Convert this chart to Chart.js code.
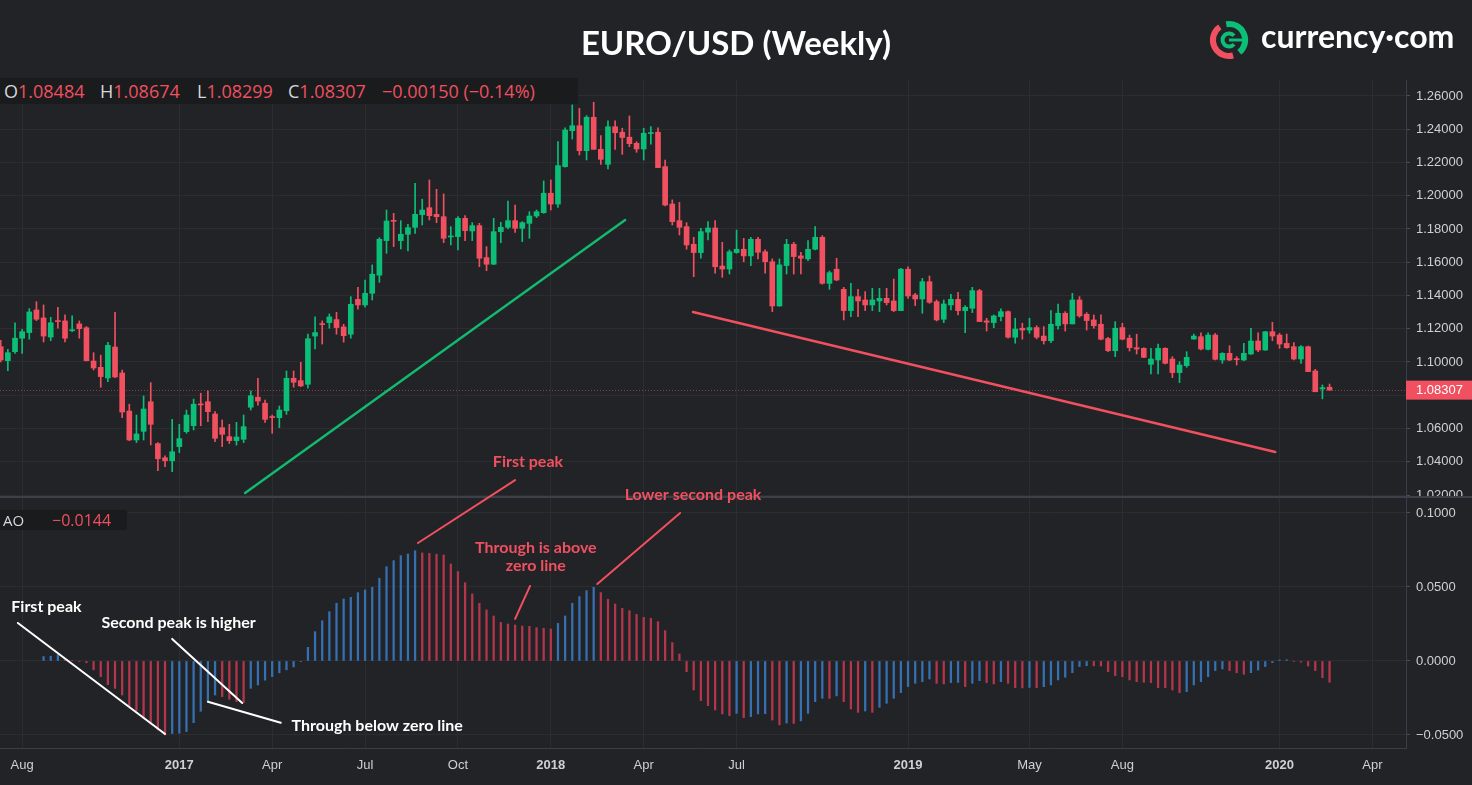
<!DOCTYPE html>
<html>
<head>
<meta charset="utf-8">
<title>EURO/USD (Weekly)</title>
<script src="https://cdn.jsdelivr.net/npm/chart.js@4.4.1/dist/chart.umd.min.js"></script>
<style>
  html, body { margin: 0; padding: 0; background: #222326; }
  #wrap { position: relative; width: 1472px; height: 785px; overflow: hidden; }
  #chart { position: absolute; left: 0; top: 0; }
  #title { position: absolute; left: 0; top: 23px; width: 1472px; text-align: center; color: #fff;
           font: 700 33px Lato, sans-serif; line-height: 38px; }
  #logoIcon { position: absolute; left: 1207px; top: 18px; }
  #logoText { position: absolute; left: 1261px; top: 20px; color: #fff; font: 700 32px Lato, sans-serif; line-height: 32px; }
  .hdr { position: absolute; left: 0; background: #1a1b1d; }
  #ohlc { top: 78px; width: 578px; height: 26px; font: 18px 'Open Sans', sans-serif; line-height: 26px; }
  #aoHead { top: 510px; width: 127px; height: 20px; font: 15px 'Open Sans', sans-serif; line-height: 20px; }
  .hdr span { position: absolute; top: 0; white-space: nowrap; }
  .k { color: #d6d7db; }
  .v { color: #f05060; }
</style>
</head>
<body>
<div id="wrap">
  <canvas id="chart" width="1472" height="785"></canvas>
  <div id="title">EURO/USD (Weekly)</div>
  <svg id="logoIcon" width="44" height="44" viewBox="0 0 44 44">
    <path d="M26.1 37.5 A16 16 0 0 1 12.8 8.9" stroke="#f05060" stroke-width="6" fill="none"/>
    <path d="M19.2 6.2 A16 16 0 0 1 32.3 34.3" stroke="#0bbf78" stroke-width="6" fill="none"/>
    <path d="M27 17.8 A6.5 6.5 0 1 0 27 26.2" stroke="#0bbf78" stroke-width="4" fill="none"/>
    <path d="M22 22 L37 22" stroke="#0bbf78" stroke-width="3"/>
  </svg>
  <div id="logoText">currency·com</div>
  <div id="ohlc" class="hdr"></div>
  <div id="aoHead" class="hdr"></div>
</div>
<script>
// Weekly EUR/USD candles, Aug 2016 - Feb 2020 (one entry per week)
const opens = [
  1.1092, 1.1008, 1.1062, 1.1143, 1.1177, 1.1313, 1.1265, 1.1150, 1.1247, 1.1247,
  1.1188, 1.1229, 1.1206, 1.1006, 1.0968, 1.0904, 1.1090, 1.0934, 1.0705, 1.0531,
  1.0583, 1.0761, 1.0509, 1.0424, 1.0406, 1.0491, 1.0581, 1.0617, 1.0746, 1.0761,
  1.0687, 1.0605, 1.0551, 1.0527, 1.0535, 1.0728, 1.0788, 1.0752, 1.0670, 1.0665,
  1.0707, 1.0902, 1.0888, 1.0866, 1.1156, 1.1229, 1.1237, 1.1255, 1.1211, 1.1167,
  1.1377, 1.1343, 1.1413, 1.1522, 1.1730, 1.1850, 1.1730, 1.1768, 1.1810, 1.1886,
  1.1928, 1.1888, 1.1874, 1.1752, 1.1754, 1.1864, 1.1788, 1.1820, 1.1628, 1.1588,
  1.1784, 1.1810, 1.1850, 1.1804, 1.1834, 1.1878, 1.1898, 1.2015, 1.1950, 1.2175,
  1.2391, 1.2421, 1.2271, 1.2472, 1.2279, 1.2189, 1.2415, 1.2382, 1.2352, 1.2315,
  1.2281, 1.2374, 1.2382, 1.2175, 1.1950, 1.1850, 1.1814, 1.1708, 1.1658, 1.1781,
  1.1806, 1.1577, 1.1559, 1.1658, 1.1678, 1.1638, 1.1738, 1.1663, 1.1603, 1.1337,
  1.1580, 1.1708, 1.1638, 1.1620, 1.1678, 1.1750, 1.1473, 1.1558, 1.1437, 1.1309,
  1.1393, 1.1373, 1.1343, 1.1367, 1.1383, 1.1367, 1.1309, 1.1558, 1.1403, 1.1379,
  1.1483, 1.1363, 1.1257, 1.1343, 1.1377, 1.1309, 1.1323, 1.1429, 1.1247, 1.1237,
  1.1273, 1.1303, 1.1149, 1.1203, 1.1192, 1.1207, 1.1156, 1.1128, 1.1219, 1.1293,
  1.1229, 1.1373, 1.1287, 1.1253, 1.1227, 1.1141, 1.1068, 1.1207, 1.1143, 1.1086,
  1.1082, 1.0986, 1.1012, 1.1082, 1.1018, 1.0936, 1.0978, 1.1138, 1.1152, 1.1076,
  1.1162, 1.1012, 1.1052, 1.1018, 1.1012, 1.1048, 1.1126, 1.1072, 1.1182, 1.1162,
  1.1112, 1.1092, 1.1018, 1.1092, 1.0946, 1.0838, 1.08484
];
const highs = [
  1.1130, 1.1076, 1.1236, 1.1197, 1.1321, 1.1363, 1.1343, 1.1269, 1.1329, 1.1283,
  1.1277, 1.1247, 1.1213, 1.1056, 1.1041, 1.1118, 1.1299, 1.0952, 1.0746, 1.0681,
  1.0796, 1.0876, 1.0515, 1.0435, 1.0655, 1.0625, 1.0711, 1.0777, 1.0812, 1.0826,
  1.0701, 1.0651, 1.0625, 1.0637, 1.0681, 1.0826, 1.0902, 1.0771, 1.0681, 1.0735,
  1.0946, 1.0946, 1.0998, 1.1168, 1.1272, 1.1247, 1.1289, 1.1299, 1.1227, 1.1393,
  1.1449, 1.1493, 1.1584, 1.1748, 1.1914, 1.1894, 1.1850, 1.1828, 1.2075, 1.1979,
  1.2095, 1.2039, 1.2011, 1.1814, 1.1874, 1.1880, 1.1838, 1.1834, 1.1694, 1.1864,
  1.1840, 1.1968, 1.1944, 1.1844, 1.1904, 1.1914, 1.2089, 1.2095, 1.2325, 1.2409,
  1.2546, 1.2526, 1.2482, 1.2562, 1.2361, 1.2451, 1.2451, 1.2406, 1.2480, 1.2325,
  1.2406, 1.2416, 1.2409, 1.2215, 1.1975, 1.1960, 1.1838, 1.1750, 1.1804, 1.1844,
  1.1850, 1.1720, 1.1674, 1.1794, 1.1744, 1.1750, 1.1750, 1.1674, 1.1620, 1.1620,
  1.1738, 1.1720, 1.1660, 1.1730, 1.1814, 1.1760, 1.1547, 1.1624, 1.1449, 1.1473,
  1.1437, 1.1423, 1.1443, 1.1443, 1.1443, 1.1499, 1.1564, 1.1573, 1.1413, 1.1503,
  1.1517, 1.1373, 1.1373, 1.1407, 1.1419, 1.1339, 1.1449, 1.1437, 1.1263, 1.1283,
  1.1319, 1.1307, 1.1263, 1.1233, 1.1263, 1.1218, 1.1213, 1.1309, 1.1349, 1.1303,
  1.1413, 1.1393, 1.1297, 1.1283, 1.1283, 1.1149, 1.1243, 1.1233, 1.1162, 1.1167,
  1.1086, 1.1082, 1.1108, 1.1086, 1.1032, 1.1002, 1.1062, 1.1168, 1.1176, 1.1176,
  1.1172, 1.1056, 1.1098, 1.1032, 1.1112, 1.1203, 1.1176, 1.1184, 1.1239, 1.1172,
  1.1168, 1.1116, 1.1098, 1.1096, 1.0956, 1.0862, 1.08674
];
const lows = [
  1.1000, 1.0948, 1.1052, 1.1052, 1.1137, 1.1249, 1.1120, 1.1128, 1.1203, 1.1120,
  1.1182, 1.1143, 1.1006, 1.0952, 1.0848, 1.0881, 1.0906, 1.0665, 1.0527, 1.0515,
  1.0531, 1.0501, 1.0346, 1.0370, 1.0340, 1.0455, 1.0571, 1.0591, 1.0617, 1.0641,
  1.0521, 1.0491, 1.0510, 1.0500, 1.0515, 1.0711, 1.0741, 1.0637, 1.0571, 1.0605,
  1.0685, 1.0848, 1.0852, 1.0842, 1.1078, 1.1108, 1.1203, 1.1167, 1.1119, 1.1143,
  1.1317, 1.1329, 1.1373, 1.1479, 1.1654, 1.1694, 1.1680, 1.1668, 1.1774, 1.1824,
  1.1854, 1.1838, 1.1718, 1.1704, 1.1674, 1.1730, 1.1730, 1.1573, 1.1549, 1.1586,
  1.1718, 1.1800, 1.1780, 1.1724, 1.1744, 1.1868, 1.1894, 1.1914, 1.1930, 1.2171,
  1.2341, 1.2245, 1.2215, 1.2279, 1.2189, 1.2161, 1.2279, 1.2249, 1.2295, 1.2261,
  1.2215, 1.2310, 1.2169, 1.1938, 1.1824, 1.1764, 1.1678, 1.1513, 1.1624, 1.1734,
  1.1534, 1.1509, 1.1529, 1.1654, 1.1603, 1.1579, 1.1620, 1.1534, 1.1303, 1.1335,
  1.1529, 1.1529, 1.1529, 1.1609, 1.1674, 1.1468, 1.1437, 1.1489, 1.1253, 1.1273,
  1.1273, 1.1309, 1.1309, 1.1303, 1.1343, 1.1303, 1.1309, 1.1383, 1.1339, 1.1293,
  1.1353, 1.1247, 1.1237, 1.1313, 1.1283, 1.1176, 1.1297, 1.1243, 1.1186, 1.1206,
  1.1247, 1.1143, 1.1113, 1.1137, 1.1173, 1.1139, 1.1108, 1.1116, 1.1198, 1.1186,
  1.1229, 1.1269, 1.1192, 1.1203, 1.1133, 1.1062, 1.1032, 1.1133, 1.1066, 1.1048,
  1.1026, 1.0928, 1.0928, 1.0988, 1.0906, 1.0876, 1.0968, 1.1137, 1.1072, 1.1072,
  1.1012, 1.0992, 1.1008, 1.0982, 1.1008, 1.1046, 1.1062, 1.1070, 1.1128, 1.1082,
  1.1082, 1.1012, 1.0992, 1.0942, 1.0821, 1.0778, 1.08299
];
const closes = [
  1.1012, 1.1056, 1.1143, 1.1182, 1.1301, 1.1257, 1.1156, 1.1236, 1.1243, 1.1143,
  1.1192, 1.1200, 1.1008, 1.0964, 1.0912, 1.1100, 1.0910, 1.0699, 1.0531, 1.0567,
  1.0717, 1.0625, 1.0418, 1.0406, 1.0460, 1.0539, 1.0681, 1.0746, 1.0742, 1.0701,
  1.0541, 1.0565, 1.0527, 1.0549, 1.0611, 1.0797, 1.0765, 1.0655, 1.0666, 1.0711,
  1.0902, 1.0878, 1.0856, 1.1140, 1.1177, 1.1225, 1.1271, 1.1207, 1.1158, 1.1347,
  1.1343, 1.1413, 1.1528, 1.1738, 1.1848, 1.1846, 1.1768, 1.1808, 1.1888, 1.1914,
  1.1880, 1.1874, 1.1744, 1.1756, 1.1864, 1.1790, 1.1820, 1.1624, 1.1588, 1.1784,
  1.1810, 1.1850, 1.1804, 1.1838, 1.1878, 1.1904, 1.2015, 1.1950, 1.2181, 1.2395,
  1.2421, 1.2271, 1.2472, 1.2279, 1.2219, 1.2415, 1.2379, 1.2350, 1.2313, 1.2281,
  1.2376, 1.2378, 1.2169, 1.1944, 1.1844, 1.1810, 1.1704, 1.1658, 1.1784, 1.1806,
  1.1573, 1.1559, 1.1663, 1.1678, 1.1638, 1.1738, 1.1660, 1.1603, 1.1337, 1.1584,
  1.1708, 1.1634, 1.1624, 1.1678, 1.1750, 1.1473, 1.1537, 1.1493, 1.1309, 1.1393,
  1.1367, 1.1343, 1.1373, 1.1383, 1.1357, 1.1309, 1.1558, 1.1397, 1.1379, 1.1483,
  1.1359, 1.1253, 1.1349, 1.1377, 1.1309, 1.1329, 1.1429, 1.1243, 1.1239, 1.1277,
  1.1303, 1.1149, 1.1198, 1.1192, 1.1207, 1.1149, 1.1128, 1.1227, 1.1293, 1.1229,
  1.1373, 1.1277, 1.1249, 1.1218, 1.1137, 1.1068, 1.1203, 1.1137, 1.1086, 1.1078,
  1.1028, 1.1018, 1.1082, 1.0992, 1.0936, 1.0982, 1.1028, 1.1156, 1.1078, 1.1162,
  1.1016, 1.1052, 1.1012, 1.1014, 1.1052, 1.1126, 1.1072, 1.1182, 1.1156, 1.1108,
  1.1086, 1.1018, 1.1092, 1.0942, 1.0821, 1.08457, 1.08307
];

// Awesome Oscillator, same weeks (first six weeks have no value on the chart)
const ao = [
  null, null, null, null, null, null,
  0.0030, 0.0032, 0.0042, 0.0008, 0.0003, -0.0004, -0.0012, -0.0060, -0.0106, -0.0160,
  -0.0185, -0.0230, -0.0300, -0.0335, -0.0390, -0.0426, -0.0466, -0.0500, -0.0490, -0.0488,
  -0.0477, -0.0417, -0.0340, -0.0275, -0.0230, -0.0241, -0.0259, -0.0275, -0.0281, -0.0185,
  -0.0162, -0.0130, -0.0106, -0.0080, -0.0060, -0.0040, -0.0005, 0.0092, 0.0198, 0.0272,
  0.0333, 0.0390, 0.0419, 0.0430, 0.0462, 0.0480, 0.0498, 0.0559, 0.0637, 0.0678,
  0.0712, 0.0723, 0.0745, 0.0730, 0.0727, 0.0722, 0.0716, 0.0655, 0.0604, 0.0529,
  0.0453, 0.0390, 0.0345, 0.0304, 0.0261, 0.0250, 0.0243, 0.0236, 0.0234, 0.0225,
  0.0221, 0.0216, 0.0254, 0.0304, 0.0390, 0.0435, 0.0475, 0.0498, 0.0462, 0.0417,
  0.0385, 0.0356, 0.0340, 0.0315, 0.0295, 0.0288, 0.0266, 0.0205, 0.0124, 0.0047,
  -0.0072, -0.0196, -0.0268, -0.0302, -0.0331, -0.0358, -0.0370, -0.0354, -0.0383, -0.0376,
  -0.0358, -0.0356, -0.0399, -0.0432, -0.0419, -0.0422, -0.0405, -0.0354, -0.0275, -0.0252,
  -0.0253, -0.0236, -0.0275, -0.0324, -0.0347, -0.0338, -0.0347, -0.0313, -0.0286, -0.0252,
  -0.0214, -0.0173, -0.0151, -0.0140, -0.0122, -0.0151, -0.0155, -0.0146, -0.0145, -0.0173,
  -0.0151, -0.0133, -0.0146, -0.0155, -0.0140, -0.0151, -0.0180, -0.0182, -0.0179, -0.0181,
  -0.0174, -0.0162, -0.0128, -0.0110, -0.0079, -0.0038, -0.0032, -0.0033, -0.0034, -0.0072,
  -0.0099, -0.0106, -0.0128, -0.0140, -0.0144, -0.0146, -0.0180, -0.0181, -0.0196, -0.0214,
  -0.0207, -0.0162, -0.0140, -0.0106, -0.0065, -0.0054, -0.0065, -0.0079, -0.0090, -0.0079,
  -0.0061, -0.0038, -0.0011, 0.0007, 0.0008, -0.0004, -0.0008, -0.0034, -0.0065, -0.0113, -0.0144
];

// x axis labels (week index they sit on)
const tickWeeks = [3, 25, 38, 51, 64, 77, 90, 103, 127, 144, 157, 179, 192];
const tickText = ['Aug', '2017', 'Apr', 'Jul', 'Oct', '2018', 'Apr', 'Jul', '2019', 'May', 'Aug', '2020', 'Apr'];

const RED = '#f05060', GREEN = '#0bbf78', AO_UP = '#3570b2', AO_DN = '#b5364c';
const BG = '#222326', GRID = '#2b2d31', AXIS_LINE = '#3b3e4a', TEXT = '#cfd0d4', WHITE = '#ffffff';

// trend lines and notes, in (week, value) coordinates
const trendLines = [
  { color: '#13b96f', a: { i: 34.2, v: 1.0212, axis: 'y' }, b: { i: 87.4, v: 1.1854, axis: 'y' } },
  { color: RED, a: { i: 96.9, v: 1.1301, axis: 'y' }, b: { i: 178.4, v: 1.0459, axis: 'y' } }
];
const pointers = [
  { color: RED, a: { i: 58.4, v: 0.0797, axis: 'yAO' }, b: { i: 72.0, v: 1.0290, axis: 'y' } },
  { color: RED, a: { i: 83.5, v: 0.0520, axis: 'yAO' }, b: { i: 95.1, v: 0.1000, axis: 'yAO' } },
  { color: RED, a: { i: 72.0, v: 0.0284, axis: 'yAO' }, b: { i: 74.1, v: 0.0507, axis: 'yAO' } },
  { color: WHITE, a: { i: 2.4, v: 0.0257, axis: 'yAO' }, b: { i: 23.0, v: -0.0493, axis: 'yAO' } },
  { color: WHITE, a: { i: 24.0, v: 0.0149, axis: 'yAO' }, b: { i: 33.8, v: -0.0284, axis: 'yAO' } },
  { color: WHITE, a: { i: 29.0, v: -0.0275, axis: 'yAO' }, b: { i: 39.2, v: -0.0417, axis: 'yAO' } }
];
const notes = [
  { text: 'First peak', color: RED, i: 73.8, v: 1.0398, axis: 'y' },
  { text: 'Lower second peak', color: RED, i: 96.9, v: 1.0200, axis: 'y' },
  { text: 'Through is above', color: RED, i: 74.9, v: 0.0764, axis: 'yAO' },
  { text: 'zero line', color: RED, i: 74.9, v: 0.0642, axis: 'yAO' },
  { text: 'First peak', color: WHITE, i: 6.4, v: 0.0365, axis: 'yAO' },
  { text: 'Second peak is higher', color: WHITE, i: 24.9, v: 0.0257, axis: 'yAO' },
  { text: 'Through below zero line', color: WHITE, i: 52.7, v: -0.0437, axis: 'yAO' }
];

const last = closes.length - 1;
const lastPrice = closes[last];

// header rows
const change = closes[last] - closes[last - 1];
const pct = change / closes[last - 1] * 100;
const minus = s => s.replace('-', '\u2212');
const hdrX = [4, 100, 197, 288, 382];
const hdrItems = [
  ['O', opens[last].toFixed(5)], ['H', highs[last].toFixed(5)], ['L', lows[last].toFixed(5)],
  ['C', closes[last].toFixed(5)], ['', minus(change.toFixed(5)) + ' (' + minus(pct.toFixed(2)) + '%)']
];
document.getElementById('ohlc').innerHTML = hdrItems.map((it, k) =>
  '<span style="left:' + hdrX[k] + 'px"><span class="k" style="position:static">' + it[0] +
  '</span><span class="v" style="position:static">' + it[1] + '</span></span>').join('');
document.getElementById('aoHead').innerHTML =
  '<span class="k" style="left:3px">AO</span><span class="v" style="left:52px;font-size:16px">' + minus(ao[last].toFixed(4)) + '</span>';

// datasets
const weeks = opens.map((_, i) => i);
const candleColors = weeks.map(i => closes[i] >= opens[i] ? GREEN : RED);
const aoWeeks = weeks.filter(i => ao[i] !== null);
const aoColors = aoWeeks.map(i => (ao[i - 1] === null || ao[i] > ao[i - 1]) ? AO_UP : AO_DN);

function toPx(chart, p) {
  return [chart.scales.x.getPixelForValue(p.i), chart.scales[p.axis].getPixelForValue(p.v)];
}

const overlay = {
  id: 'overlay',
  beforeDatasetsDraw(chart) {
    const { ctx, chartArea } = chart;
    const y = Math.round(chart.scales.y.getPixelForValue(lastPrice)) + 0.5;
    ctx.save();
    ctx.strokeStyle = 'rgba(240,80,96,0.55)';
    ctx.lineWidth = 1;
    ctx.setLineDash([1, 2]);
    ctx.beginPath();
    ctx.moveTo(chartArea.left, y);
    ctx.lineTo(chartArea.right, y);
    ctx.stroke();
    ctx.restore();
  },
  afterDraw(chart) {
    const { ctx, chartArea } = chart;
    const sepY = chart.scales.yAO.top;
    ctx.save();
    // hide lower half of the cut 1.02000 label, like the reference
    ctx.fillStyle = BG;
    ctx.fillRect(chartArea.right + 1, sepY, 80, 8);
    // pane separator
    ctx.strokeStyle = '#3d4049';
    ctx.lineWidth = 2;
    ctx.beginPath();
    ctx.moveTo(0, sepY);
    ctx.lineTo(chart.width, sepY);
    ctx.stroke();

    ctx.lineCap = 'round';
    trendLines.forEach(t => {
      const a = toPx(chart, t.a), b = toPx(chart, t.b);
      ctx.strokeStyle = t.color;
      ctx.lineWidth = 2.5;
      ctx.beginPath(); ctx.moveTo(a[0], a[1]); ctx.lineTo(b[0], b[1]); ctx.stroke();
    });
    pointers.forEach(t => {
      const a = toPx(chart, t.a), b = toPx(chart, t.b);
      ctx.strokeStyle = t.color;
      ctx.lineWidth = 2;
      ctx.beginPath(); ctx.moveTo(a[0], a[1]); ctx.lineTo(b[0], b[1]); ctx.stroke();
    });
    ctx.font = '700 16px Lato, sans-serif';
    ctx.textAlign = 'center';
    ctx.textBaseline = 'middle';
    notes.forEach(n => {
      const p = toPx(chart, n);
      ctx.fillStyle = n.color;
      ctx.fillText(n.text, p[0], p[1]);
    });

    // last price tag on the price axis
    const py = chart.scales.y.getPixelForValue(lastPrice);
    ctx.fillStyle = RED;
    ctx.fillRect(chartArea.right, py - 9.5, chart.width - chartArea.right, 19);
    ctx.fillStyle = '#ffffff';
    ctx.font = "13px 'Liberation Sans', Arial, sans-serif";
    ctx.textAlign = 'left';
    ctx.fillText(lastPrice.toFixed(5), chartArea.right + 10, py + 0.5);
    ctx.restore();
  }
};

Chart.defaults.font.family = "'Liberation Sans', Arial, sans-serif";
Chart.defaults.font.size = 13;
Chart.defaults.color = TEXT;

new Chart(document.getElementById('chart'), {
  type: 'bar',
  data: {
    datasets: [
      {
        label: 'body',
        data: weeks.map(i => ({ x: i, y: [opens[i], closes[i]] })),
        backgroundColor: candleColors,
        barThickness: 5,
        minBarLength: 1,
        grouped: false,
        yAxisID: 'y',
        order: 1
      },
      {
        label: 'wick',
        data: weeks.map(i => ({ x: i, y: [lows[i], highs[i]] })),
        backgroundColor: candleColors,
        barThickness: 1,
        grouped: false,
        yAxisID: 'y',
        order: 2
      },
      {
        label: 'AO',
        data: aoWeeks.map(i => ({ x: i, y: ao[i] })),
        backgroundColor: aoColors,
        barThickness: 1.6,
        grouped: false,
        yAxisID: 'yAO',
        order: 3
      }
    ]
  },
  options: {
    responsive: false,
    animation: false,
    devicePixelRatio: 1,
    layout: { padding: { top: 80, left: 0, right: 0, bottom: 0 } },
    plugins: { legend: { display: false }, tooltip: { enabled: false } },
    scales: {
      x: {
        type: 'linear',
        min: -0.1,
        max: 196.7,
        offset: false,
        grid: { color: GRID, offset: false, drawTicks: false },
        border: { color: AXIS_LINE },
        afterBuildTicks: s => { s.ticks = tickWeeks.map(v => ({ value: v })); },
        afterFit: s => { s.height = 37; },
        ticks: {
          autoSkip: false,
          maxRotation: 0,
          padding: 10,
          color: TEXT,
          callback: (v, k) => tickText[k],
          font: c => ({ weight: /^\d+$/.test(tickText[c.index]) ? 'bold' : 'normal' })
        }
      },
      y: {
        position: 'right',
        stack: 'panes',
        stackWeight: 417,
        min: 1.0188,
        max: 1.2696,
        grid: { color: GRID, tickColor: '#4a4d57', tickLength: 4 },
        border: { color: AXIS_LINE },
        afterFit: s => { s.width = 66; },
        ticks: { stepSize: 0.02, includeBounds: false, autoSkip: false, padding: 6, color: TEXT, callback: v => v.toFixed(5) }
      },
      yAO: {
        position: 'right',
        stack: 'panes',
        stackWeight: 251,
        min: -0.0588,
        max: 0.1108,
        grid: { color: GRID, tickColor: '#4a4d57', tickLength: 4 },
        border: { color: AXIS_LINE },
        afterFit: s => { s.width = 66; },
        ticks: { stepSize: 0.05, includeBounds: false, autoSkip: false, padding: 6, color: TEXT, callback: v => minus(v.toFixed(4)) }
      }
    }
  },
  plugins: [overlay]
});
</script>
</body>
</html>
